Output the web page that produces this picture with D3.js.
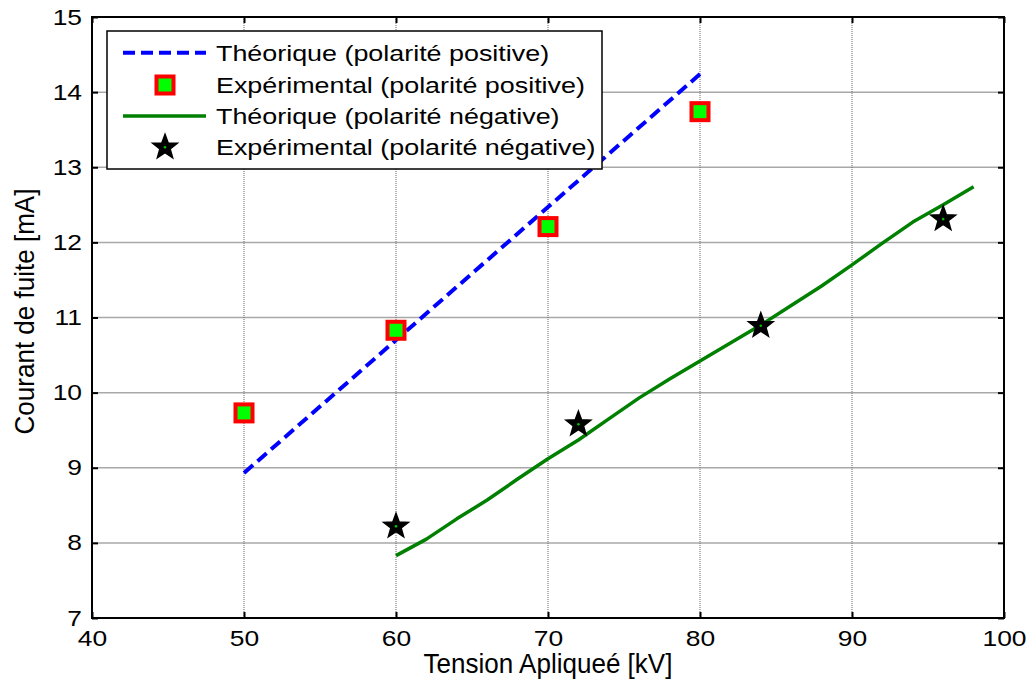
<!DOCTYPE html>
<html>
<head>
<meta charset="utf-8">
<script src="https://cdn.jsdelivr.net/npm/d3@7"></script>
<style>
  html, body { margin: 0; padding: 0; background: #fff; }
  svg { display: block; }
  text { font-family: "Liberation Sans", Arial, Helvetica, sans-serif; fill: #000; }
</style>
</head>
<body>
<svg id="chart" width="1031" height="685"></svg>
<script>
// ---------- data ----------
const xTicks = [40, 50, 60, 70, 80, 90, 100];
const yTicks = [7, 8, 9, 10, 11, 12, 13, 14, 15];

const theoPosX = [50, 60, 70, 80];
const theoPosY = [8.93, 10.70, 12.47, 14.24];

const expPosX = [50, 60, 70, 80];
const expPosY = [9.73, 10.83, 12.21, 13.74];

const theoNegX = [60, 62, 64, 66, 68, 70, 72, 74, 76, 78, 80, 82, 84, 86, 88, 90, 92, 94, 96, 98];
const theoNegY = [7.83, 8.05, 8.32, 8.57, 8.85, 9.12, 9.37, 9.65, 9.93, 10.18, 10.42, 10.66, 10.90, 11.16, 11.42, 11.70, 11.99, 12.27, 12.50, 12.74];

const expNegX = [60, 72, 84, 96];
const expNegY = [8.22, 9.58, 10.89, 12.31];

const legendLabels = [
  "Théorique (polarité positive)",
  "Expérimental (polarité positive)",
  "Théorique (polarité négative)",
  "Expérimental (polarité négative)"
];
const xTitle = "Tension Apliqueé [kV]";
const yTitle = "Courant de fuite [mA]";

// ---------- layout ----------
const L = 92, R = 1004, T = 17, B = 618;
const SX = 1.2; // horizontal text stretch seen in the reference
const svg = d3.select("#chart");
const x = d3.scaleLinear().domain([40, 100]).range([L, R]);
const y = d3.scaleLinear().domain([7, 15]).range([B, T]);

// grid
const grid = svg.append("g");
grid.selectAll("line.h").data(yTicks.slice(1, -1)).join("line")
  .attr("x1", L).attr("x2", R)
  .attr("y1", d => y(d)).attr("y2", d => y(d))
  .attr("stroke", "#a8a8a8").attr("stroke-width", 1.5);
grid.selectAll("line.v").data(xTicks.slice(1, -1)).join("line")
  .attr("y1", T).attr("y2", B)
  .attr("x1", d => x(d)).attr("x2", d => x(d))
  .attr("stroke", "#666").attr("stroke-width", 1).attr("stroke-dasharray", "1,1");

// axes (ticks inward on all four sides)
function styleAxis(g) {
  g.select(".domain").remove();
  g.selectAll(".tick line").attr("stroke", "#000").attr("stroke-width", 2);
}
const gB = svg.append("g").attr("transform", `translate(0,${B})`)
  .call(d3.axisBottom(x).tickValues(xTicks).tickSize(-6).tickSizeOuter(0).tickPadding(12));
styleAxis(gB);
gB.selectAll(".tick text")
  .attr("font-size", 22).attr("font-family", null)
  .attr("x", 0)
  .attr("transform", `scale(${SX},1)`);

const gL = svg.append("g").attr("transform", `translate(${L},0)`)
  .call(d3.axisLeft(y).tickValues(yTicks).tickSize(-6).tickSizeOuter(0).tickPadding(10));
styleAxis(gL);
gL.selectAll(".tick text")
  .attr("font-size", 22).attr("font-family", null)
  .attr("x", -10 / SX)
  .attr("transform", `scale(${SX},1)`);

const gT = svg.append("g").attr("transform", `translate(0,${T})`)
  .call(d3.axisTop(x).tickValues(xTicks).tickSize(-6).tickSizeOuter(0).tickFormat(""));
styleAxis(gT);
const gR = svg.append("g").attr("transform", `translate(${R},0)`)
  .call(d3.axisRight(y).tickValues(yTicks).tickSize(-6).tickSizeOuter(0).tickFormat(""));
styleAxis(gR);

// box
svg.append("rect").attr("x", L).attr("y", T).attr("width", R - L).attr("height", B - T)
  .attr("fill", "none").attr("stroke", "#000").attr("stroke-width", 2);

// titles
svg.append("text").attr("transform", `translate(${(L + R) / 2},673) scale(0.93,1)`)
  .attr("text-anchor", "middle").attr("font-size", 28).text(xTitle);
svg.append("text")
  .attr("transform", `translate(34,${(T + B) / 2 - 6}) rotate(-90) scale(0.93,1)`)
  .attr("text-anchor", "middle").attr("font-size", 28).text(yTitle);

// ---------- series ----------
const line = d3.line().x(d => x(d[0])).y(d => y(d[1]));
const zip = (a, b) => a.map((v, i) => [v, b[i]]);

svg.append("path").datum(zip(theoPosX, theoPosY))
  .attr("d", line).attr("fill", "none").attr("stroke", "#0000ff")
  .attr("stroke-width", 4).attr("stroke-dasharray", "12,6");

svg.append("path").datum(zip(theoNegX, theoNegY))
  .attr("d", line).attr("fill", "none").attr("stroke", "#008000")
  .attr("stroke-width", 3.5).attr("stroke-linejoin", "round");

function square(g, cx, cy) {
  g.append("rect").attr("x", cx - 8.5).attr("y", cy - 8.5).attr("width", 17).attr("height", 17)
    .attr("fill", "#00ff00").attr("stroke", "#ff0000").attr("stroke-width", 4);
}
function starPath(R0, r0) {
  const pts = [];
  for (let i = 0; i < 10; i++) {
    const a = -Math.PI / 2 + i * Math.PI / 5;
    const rr = i % 2 === 0 ? R0 : r0;
    pts.push([rr * Math.cos(a), rr * Math.sin(a)]);
  }
  return "M" + pts.map(p => p.join(",")).join("L") + "Z";
}
function star(g, cx, cy) {
  g.append("path").attr("d", starPath(13, 5.4)).attr("transform", `translate(${cx},${cy})`)
    .attr("fill", "#000").attr("stroke", "#000").attr("stroke-width", 1.5).attr("stroke-linejoin", "miter");
  g.append("circle").attr("cx", cx).attr("cy", cy).attr("r", 1.3).attr("fill", "#00c000");
}

const gm = svg.append("g");
zip(expPosX, expPosY).forEach(d => square(gm, x(d[0]), y(d[1])));
zip(expNegX, expNegY).forEach(d => star(gm, x(d[0]), y(d[1])));

// ---------- legend ----------
const lg = svg.append("g");
lg.append("rect").attr("x", 107).attr("y", 31).attr("width", 495).attr("height", 138)
  .attr("fill", "#fff").attr("stroke", "#000").attr("stroke-width", 1.5);
const rows = [52.7, 85, 116, 147.3];
lg.append("line").attr("x1", 123).attr("x2", 206).attr("y1", rows[0]).attr("y2", rows[0])
  .attr("stroke", "#0000ff").attr("stroke-width", 4).attr("stroke-dasharray", "12,6");
square(lg, 165, rows[1]);
lg.append("line").attr("x1", 123).attr("x2", 206).attr("y1", rows[2]).attr("y2", rows[2])
  .attr("stroke", "#008000").attr("stroke-width", 3.5);
star(lg, 165, rows[3]);
legendLabels.forEach((t, i) => {
  lg.append("text").attr("transform", `translate(216,${rows[i]}) scale(${SX},1)`)
    .attr("dy", "0.35em").attr("font-size", 22.4).text(t);
});
</script>
</body>
</html>
